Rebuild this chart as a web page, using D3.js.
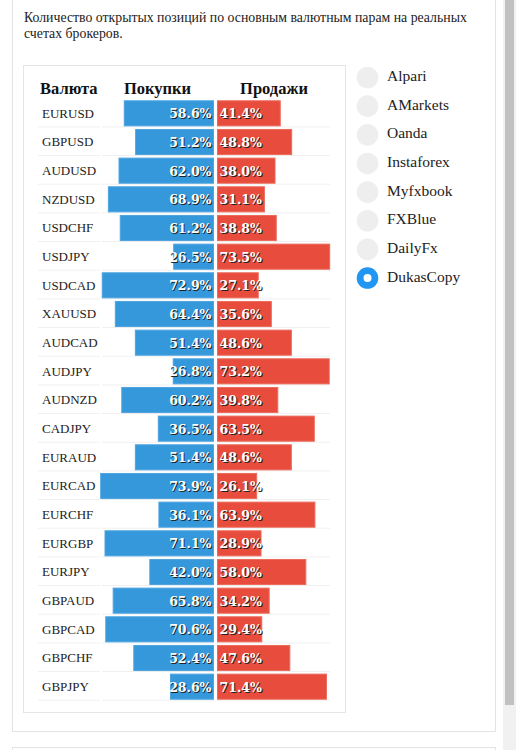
<!DOCTYPE html>
<html>
<head>
<meta charset="utf-8">
<script src="https://cdn.jsdelivr.net/npm/d3@7"></script>
<style>
  body { margin: 0; background: #fff; }
  svg { display: block; }
</style>
</head>
<body>
<script>
// pairs and positions (percent) from the DukasCopy tab
const pairs = ["EURUSD", "GBPUSD", "AUDUSD", "NZDUSD", "USDCHF", "USDJPY", "USDCAD",
    "XAUUSD", "AUDCAD", "AUDJPY", "AUDNZD", "CADJPY", "EURAUD", "EURCAD", "EURCHF",
    "EURGBP", "EURJPY", "GBPAUD", "GBPCAD", "GBPCHF", "GBPJPY"];
const buys = [58.6, 51.2, 62.0, 68.9, 61.2, 26.5, 72.9, 64.4, 51.4, 26.8, 60.2, 36.5,
    51.4, 73.9, 36.1, 71.1, 42.0, 65.8, 70.6, 52.4, 28.6];
const sells = [41.4, 48.8, 38.0, 31.1, 38.8, 73.5, 27.1, 35.6, 48.6, 73.2, 39.8, 63.5,
    48.6, 26.1, 63.9, 28.9, 58.0, 34.2, 29.4, 47.6, 71.4];
const brokers = ["Alpari", "AMarkets", "Oanda", "Instaforex", "Myfxbook", "FXBlue", "DailyFx", "DukasCopy"];
const selected = "DukasCopy";
const title = ["Количество открытых позиций по основным валютным парам на реальных",
    "счетах брокеров."];
const headers = ["Валюта", "Покупки", "Продажи"];

const data = pairs.map((p, i) => ({ pair: p, buy: buys[i], sell: sells[i] }));

const serif = '"Liberation Serif", "Times New Roman", serif';
const barFont = '"DejaVu Serif", Georgia, serif';

const svg = d3.select('body').append('svg')
    .attr('width', 522)
    .attr('height', 750);

// scrollbar
svg.append('rect').attr('x', 503).attr('y', 0).attr('width', 13).attr('height', 750).attr('fill', '#f1f1f1');
svg.append('rect').attr('x', 505).attr('y', 0).attr('width', 9).attr('height', 705).attr('fill', '#c1c1c1');

// outer panel + next panel
svg.append('rect').attr('x', 12.5).attr('y', -10).attr('width', 483).attr('height', 741.5)
    .attr('fill', '#fff').attr('stroke', '#e3e3e3');
svg.append('rect').attr('x', 12.5).attr('y', 747.5).attr('width', 483).attr('height', 20)
    .attr('fill', '#fff').attr('stroke', '#e3e3e3');

svg.selectAll('text.title').data(title).join('text')
    .attr('class', 'title')
    .attr('x', 24)
    .attr('y', (d, i) => 22 + i * 16)
    .attr('font-family', serif)
    .attr('font-size', 13.8)
    .attr('fill', '#222')
    .text(d => d);

// chart box
svg.append('rect').attr('x', 23.5).attr('y', 65.5).attr('width', 322).attr('height', 647)
    .attr('fill', '#fff').attr('stroke', '#e5e5e5');

const yscale = d3.scaleBand().domain(pairs).range([99, 701]).paddingInner(0.09).paddingOuter(0.045);
const mid = 215.5;
const xscale = d3.scaleLinear().domain([0, 100]).range([0, 154]);

const g = svg.append('g');

// headers
g.selectAll('text.head').data(headers).join('text')
    .attr('class', 'head')
    .attr('x', (d, i) => [40, 157.5, 274][i])
    .attr('y', 94)
    .attr('text-anchor', (d, i) => i === 0 ? 'start' : 'middle')
    .attr('font-family', serif)
    .attr('font-weight', 'bold')
    .attr('font-size', 16.5)
    .attr('fill', '#111')
    .text(d => d);

// row separators
const seps = [[38, 100], [102, 214], [217, 330]];
data.forEach(d => {
    const yb = yscale(d.pair) + yscale.bandwidth() + 0.5;
    seps.forEach(s => {
        g.append('line').attr('x1', s[0]).attr('x2', s[1]).attr('y1', yb).attr('y2', yb)
            .attr('stroke', '#f0f0f0');
    });
});

const rows = g.selectAll('g.row').data(data).join('g')
    .attr('class', 'row')
    .attr('transform', d => `translate(0,${yscale(d.pair)})`);

const h = yscale.bandwidth();

rows.append('text')
    .attr('x', 42)
    .attr('y', h / 2 + 4.5)
    .attr('font-family', serif)
    .attr('font-size', 13)
    .attr('fill', '#222')
    .text(d => d.pair);

rows.append('rect')
    .attr('x', d => mid - 1.5 - xscale(d.buy) + 0.5)
    .attr('y', 0.5)
    .attr('width', d => xscale(d.buy) - 1)
    .attr('height', h - 1)
    .attr('fill', '#3498db')
    .attr('stroke', '#4ea4e0');

rows.append('rect')
    .attr('x', mid + 1.5 + 0.5)
    .attr('y', 0.5)
    .attr('width', d => xscale(d.sell) - 1)
    .attr('height', h - 1)
    .attr('fill', '#e74c3c')
    .attr('stroke', '#ec6a5c');

// percent labels with dark shadow
function pctLabel(sel, key, x, anchor) {
    [['#222', 1], ['#fff', 0]].forEach(([c, o]) => {
        sel.append('text')
            .attr('x', x + o)
            .attr('y', h / 2 + 5 + o)
            .attr('text-anchor', anchor)
            .attr('font-family', barFont)
            .attr('font-weight', 'bold')
            .attr('font-size', 12.5)
            .attr('fill', c)
            .text(d => d[key].toFixed(1) + '%');
    });
}
pctLabel(rows, 'buy', mid - 4, 'end');
pctLabel(rows, 'sell', mid + 4, 'start');

// broker radio list
const radios = svg.selectAll('g.radio').data(brokers).join('g')
    .attr('class', 'radio')
    .attr('transform', (d, i) => `translate(367.5,${77.5 + i * 28.65})`);

radios.append('circle')
    .attr('r', 10.8)
    .attr('fill', d => d === selected ? '#2196f3' : '#eeeeee');
radios.filter(d => d === selected).append('circle')
    .attr('r', 4).attr('fill', '#fff');

radios.append('text')
    .attr('x', 19.5)
    .attr('y', 3.5)
    .attr('font-family', serif)
    .attr('font-size', 15.5)
    .attr('fill', '#222')
    .text(d => d);
</script>
</body>
</html>
